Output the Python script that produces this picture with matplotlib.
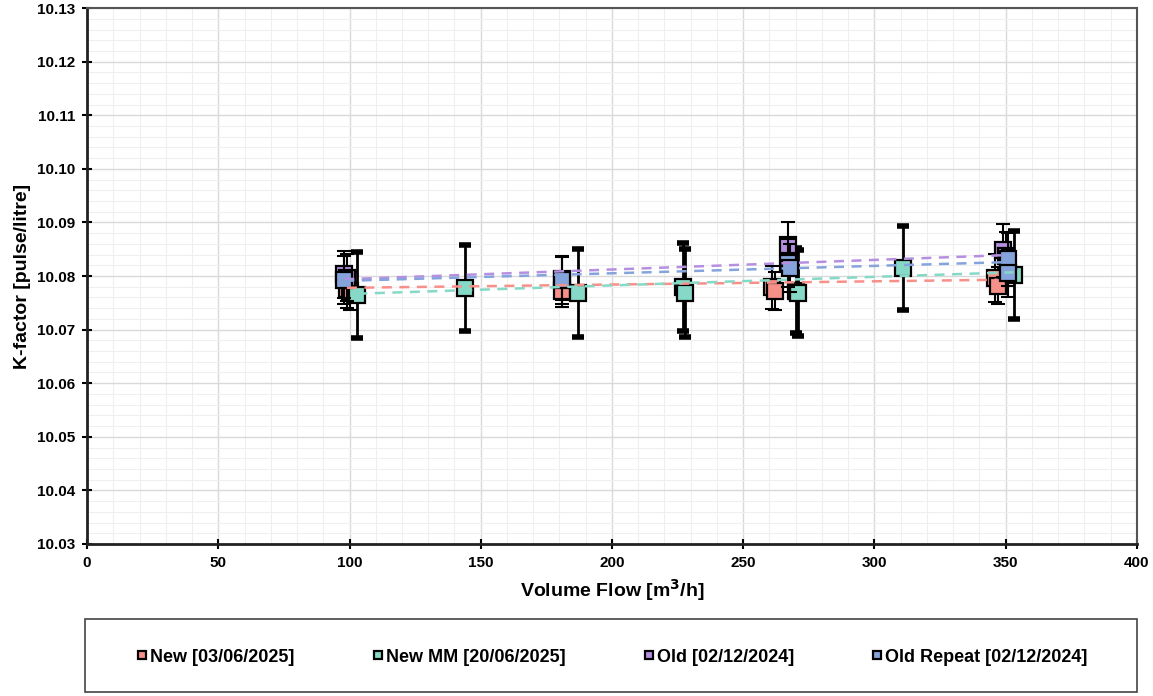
import matplotlib.pyplot as plt
from matplotlib.patches import Rectangle
from matplotlib.ticker import MultipleLocator, FormatStrFormatter

# data
labels = ["New [03/06/2025]", "New MM [20/06/2025]", "Old [02/12/2024]", "Old Repeat [02/12/2024]"]
colors = ["#f8908a", "#86d9c6", "#b690e0", "#86a4dc"]

new_flow = [99, 100, 181, 261, 262, 346, 347]
new_k = [10.0776, 10.0772, 10.0772, 10.0779, 10.0772, 10.0797, 10.0782]
new_err = [0.0035, 0.0035, 0.0030, 0.0040, 0.0035, 0.0045, 0.0035]

mm_flow = [103, 144, 187, 227, 228, 270, 271, 311, 353]
mm_k = [10.0764, 10.0778, 10.0769, 10.0779, 10.0769, 10.0773, 10.0769, 10.0815, 10.0802]
mm_err = [0.0080, 0.0080, 0.0082, 0.0082, 0.0082, 0.0080, 0.0080, 0.0079, 0.0082]

old_flow = [98, 99, 181, 267, 349, 350]
old_k = [10.0803, 10.0797, 10.0795, 10.0857, 10.0848, 10.0838]
old_err = [0.0044, 0.0044, 0.0040, 0.0044, 0.0050, 0.0045]

rep_flow = [98, 181, 267, 268, 351, 351]
rep_k = [10.0793, 10.0792, 10.0825, 10.0815, 10.0831, 10.0805]
rep_err = [0.0045, 0.0045, 0.0045, 0.0045, 0.0050, 0.0045]

# dashed trend lines: value at first and last flow
new_trend = [10.0778, 10.0793]
mm_trend = [10.0767, 10.0807]
old_trend = [10.0794, 10.0839]
rep_trend = [10.0791, 10.0826]

series = [
    (new_flow, new_k, new_err, new_trend),
    (mm_flow, mm_k, mm_err, mm_trend),
    (old_flow, old_k, old_err, old_trend),
    (rep_flow, rep_k, rep_err, rep_trend),
]

plt.rcParams['font.family'] = ['Liberation Sans', 'DejaVu Sans']

fig = plt.figure(figsize=(11.53, 6.96), dpi=100)
ax = fig.add_axes([0.0755, 0.2184, 0.9105, 0.770])

handles = []
for i, (fl, k, err, trend) in enumerate(series):
    teal = (i == 1)
    ax.errorbar(fl, k, yerr=err, fmt='none', ecolor='black',
                elinewidth=2.0 if teal else 1.5,
                capsize=4 if teal else 5, capthick=4 if teal else 1.5, zorder=3 + i)
    h, = ax.plot(fl, k, 's', markersize=11, markerfacecolor=colors[i],
                 markeredgecolor='black', markeredgewidth=1.6, linestyle='none',
                 zorder=3 + i, label=labels[i])
    handles.append(h)
    ax.plot([min(fl), max(fl)], trend, '--', color=colors[i], lw=1.8,
            dashes=(4, 3), zorder=10)

ax.set_xlim(0, 400)
ax.set_ylim(10.03, 10.13)
ax.xaxis.set_major_locator(MultipleLocator(50))
ax.xaxis.set_minor_locator(MultipleLocator(10))
ax.yaxis.set_major_locator(MultipleLocator(0.01))
ax.yaxis.set_minor_locator(MultipleLocator(0.002))
ax.yaxis.set_major_formatter(FormatStrFormatter('%.2f'))

ax.grid(which='major', color='#d9d9d9', lw=1.0)
ax.grid(which='minor', color='#efefef', lw=0.8)
ax.set_axisbelow(True)

for s in ['left', 'bottom']:
    ax.spines[s].set_color('#222222')
    ax.spines[s].set_linewidth(2)
for s in ['top', 'right']:
    ax.spines[s].set_color('#555555')
    ax.spines[s].set_linewidth(1.5)

ax.tick_params(which='major', direction='inout', length=7, width=1.5,
               labelsize=11, pad=5)
ax.tick_params(which='minor', length=0)
for t in ax.get_xticklabels() + ax.get_yticklabels():
    t.set_fontweight('bold')

ax.set_xlabel(r'Volume Flow [m$^{\mathbf{3}}$/h]', fontsize=14, fontweight='bold', labelpad=5)
ax.set_ylabel('K-factor [pulse/litre]', fontsize=14, fontweight='bold', labelpad=4)

# legend box under the plot
fig.patches.append(Rectangle((0.0737, 0.006), 0.912, 0.104, transform=fig.transFigure,
                             fill=False, edgecolor='#444444', lw=1.2))
leg = fig.legend(handles=handles, loc='center', bbox_to_anchor=(0.531, 0.056),
                 ncol=4, frameon=False, markerscale=0.55, handlelength=0.6,
                 handletextpad=0.15, columnspacing=4.3,
                 prop={'weight': 'bold', 'size': 13})

fig.savefig('out.png', dpi=100)
